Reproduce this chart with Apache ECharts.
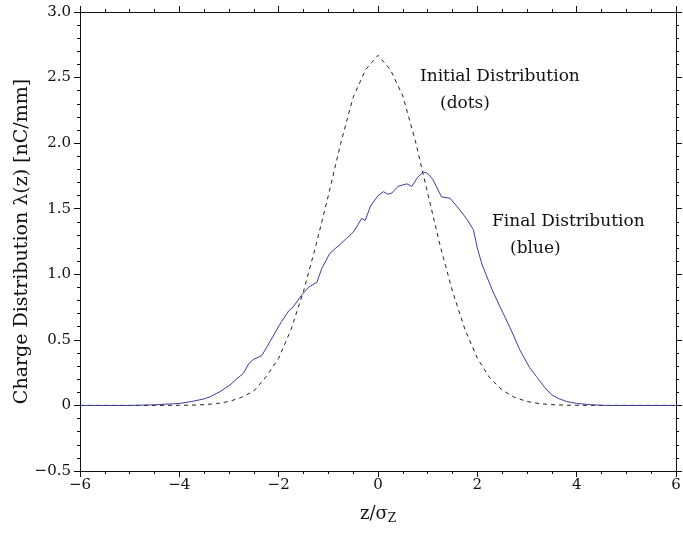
<!DOCTYPE html>
<html>
<head>
<meta charset="utf-8">
<script src="https://cdn.jsdelivr.net/npm/echarts@6/dist/echarts.min.js"></script>
<style>
  html, body { margin: 0; padding: 0; background: #fff; }
  #chart { width: 683px; height: 535px; }
</style>
</head>
<body>
<div id="chart"></div>
<script>
// initial distribution (dashed)
const initialX = [-6, -5, -4.5, -4, -3.75, -3.5, -3.25, -3, -2.75, -2.5, -2.25, -2, -1.75, -1.5, -1.25, -1,
  -0.75, -0.5, -0.25, 0, 0.25, 0.5, 0.75, 1, 1.25, 1.5, 1.75, 2, 2.25, 2.5, 2.75, 3, 3.25, 3.5, 3.75, 4, 4.5, 5, 6];
const initialY = [0, 0, 0, 0.001, 0.002, 0.006, 0.014, 0.03, 0.061, 0.11, 0.22, 0.36, 0.58, 0.87, 1.22, 1.6,
  2.0, 2.35, 2.56, 2.67, 2.56, 2.36, 2.02, 1.62, 1.22, 0.87, 0.58, 0.36, 0.21, 0.117, 0.061, 0.03, 0.014, 0.006, 0.002, 0.001, 0, 0, 0];

// final distribution (blue)
const finalX = [-6, -5, -4.5, -4, -3.75, -3.5, -3.38, -3.18, -2.98, -2.85, -2.71, -2.6, -2.51, -2.34, -2.2, -2.05,
  -1.94, -1.8, -1.71, -1.54, -1.4, -1.23, -1.13, -0.97, -0.85, -0.73, -0.63, -0.5, -0.4, -0.33, -0.26, -0.15,
  0, 0.11, 0.2, 0.28, 0.4, 0.58, 0.68, 0.8, 0.91, 1.0, 1.11, 1.2, 1.28, 1.45, 1.65, 1.79, 1.92, 2.0, 2.09,
  2.3, 2.46, 2.65, 2.86, 3.05, 3.19, 3.35, 3.5, 3.65, 3.8, 4.0, 4.3, 4.6, 6];
const finalY = [0, 0, 0.005, 0.015, 0.03, 0.05, 0.066, 0.105, 0.156, 0.2, 0.245, 0.32, 0.35, 0.38, 0.47, 0.57,
  0.64, 0.72, 0.75, 0.84, 0.9, 0.94, 1.046, 1.16, 1.2, 1.24, 1.275, 1.32, 1.38, 1.427, 1.41, 1.52,
  1.6, 1.63, 1.61, 1.62, 1.67, 1.69, 1.67, 1.74, 1.78, 1.77, 1.72, 1.65, 1.59, 1.58, 1.49, 1.42, 1.34, 1.2, 1.08,
  0.88, 0.75, 0.6, 0.42, 0.29, 0.22, 0.14, 0.08, 0.05, 0.03, 0.015, 0.005, 0, 0];

const xTicks = [-6, -4, -2, 0, 2, 4, 6];
const yTickLabels = { '-0.5': '\u22120.5', '0': '0', '0.5': '0.5', '1': '1.0', '1.5': '1.5', '2': '2.0', '2.5': '2.5', '3': '3.0' };

const font = 'DejaVu Serif';
const ink = '#111';

const chart = echarts.init(document.getElementById('chart'));

const axisCommon = {
  axisLine: { show: true, onZero: false, lineStyle: { color: ink, width: 1 } },
  axisTick: { show: true, length: 6, lineStyle: { color: ink } },
  minorTick: { show: true, length: 3, lineStyle: { color: ink } },
  splitLine: { show: false }
};

const xBase = { type: 'value', min: -6, max: 6, interval: 2, ...axisCommon,
  minorTick: { ...axisCommon.minorTick, splitNumber: 4 } };
const yBase = { type: 'value', min: -0.5, max: 3, interval: 0.5, ...axisCommon,
  minorTick: { ...axisCommon.minorTick, splitNumber: 5 } };

chart.setOption({
  backgroundColor: '#fff',
  animation: false,
  grid: { left: 80, right: 7, top: 12, bottom: 64, containLabel: false, outerBoundsMode: 'none' },
  xAxis: [
    { ...xBase, position: 'bottom',
      name: '{n|z/\u03c3}{s|Z}', nameLocation: 'middle', nameGap: 33, nameMoveOverlap: false,
      nameTextStyle: { rich: {
        n: { fontFamily: font, fontSize: 18, color: ink },
        s: { fontFamily: font, fontSize: 12, color: ink, verticalAlign: 'bottom', padding: [9, 0, 0, 0] } } },
      axisLabel: { fontFamily: font, fontSize: 15, color: ink, margin: 7,
        formatter: v => xTicks.includes(v) ? String(v).replace('-', '\u2212') : '' } },
    { ...xBase, position: 'top', axisLabel: { show: false } }
  ],
  yAxis: [
    { ...yBase, position: 'left',
      name: 'Charge Distribution \u03bb(z) [nC/mm]', nameLocation: 'middle', nameGap: 48, nameMoveOverlap: false,
      nameTextStyle: { fontFamily: font, fontSize: 19, color: ink },
      axisLabel: { fontFamily: font, fontSize: 15, color: ink, margin: 9,
        formatter: v => yTickLabels[String(v)] || '' } },
    { ...yBase, position: 'right', axisLabel: { show: false } }
  ],
  series: [
    { name: 'Initial Distribution', type: 'line', showSymbol: false, symbol: 'none',
      data: initialX.map((x, i) => [x, initialY[i]]),
      lineStyle: { color: '#222', width: 1, type: [4, 4] } },
    { name: 'Final Distribution', type: 'line', showSymbol: false, symbol: 'none',
      data: finalX.map((x, i) => [x, finalY[i]]),
      lineStyle: { color: '#3d3d9c', width: 1 } }
  ],
  graphic: [
    { type: 'text', left: 420, top: 68, style: { text: 'Initial Distribution', font: '17px "DejaVu Serif"', fill: ink } },
    { type: 'text', left: 440, top: 95, style: { text: '(dots)', font: '17px "DejaVu Serif"', fill: ink } },
    { type: 'text', left: 492, top: 213, style: { text: 'Final Distribution', font: '17px "DejaVu Serif"', fill: ink } },
    { type: 'text', left: 510, top: 240, style: { text: '(blue)', font: '17px "DejaVu Serif"', fill: ink } }
  ]
});
</script>
</body>
</html>
